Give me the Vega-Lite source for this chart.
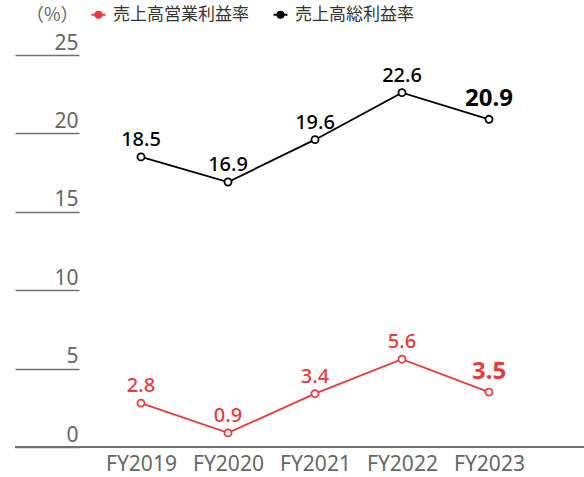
{
  "$schema": "https://vega.github.io/schema/vega-lite/v6.json",
  "autosize": {"type": "none"},
  "padding": {"left": 15, "top": 55, "right": 0, "bottom": 30},
  "width": 569,
  "height": 392,
  "background": "white",
  "config": {
    "view": {"stroke": null},
    "font": "Noto Sans",
    "axisY": {"titleFontSize": 18, "titleFontWeight": "normal", "titleColor": "#666666", "titleFont": "Noto Sans CJK JP"}
  },
  "data": {"values": [
    {"year": "FY2019", "series": "売上高営業利益率", "value": 2.8},
    {"year": "FY2020", "series": "売上高営業利益率", "value": 0.9},
    {"year": "FY2021", "series": "売上高営業利益率", "value": 3.4},
    {"year": "FY2022", "series": "売上高営業利益率", "value": 5.6},
    {"year": "FY2023", "series": "売上高営業利益率", "value": 3.5},
    {"year": "FY2019", "series": "売上高総利益率", "value": 18.5},
    {"year": "FY2020", "series": "売上高総利益率", "value": 16.9},
    {"year": "FY2021", "series": "売上高総利益率", "value": 19.6},
    {"year": "FY2022", "series": "売上高総利益率", "value": 22.6},
    {"year": "FY2023", "series": "売上高総利益率", "value": 20.9}
  ]},
  "encoding": {
    "x": {
      "field": "year", "type": "ordinal",
      "scale": {"type": "point", "range": [126, 474], "padding": 0},
      "axis": {
        "title": null, "domain": false, "ticks": false, "labelAngle": 0,
        "labelFontSize": 21, "labelColor": "#666666", "labelPadding": 6,
        "labelFont": "Noto Sans"
      }
    },
    "y": {
      "field": "value", "type": "quantitative",
      "scale": {"domain": [0, 25], "nice": false, "zero": true},
      "axis": {
        "values": [0, 5, 10, 15, 20, 25],
        "offset": -64,
        "domain": false,
        "tickSize": 64, "tickColor": "#707070", "tickWidth": 1.5,
        "labelAlign": "right", "labelBaseline": "alphabetic",
        "labelPadding": -63, "labelOffset": -6,
        "labelFontSize": 21, "labelColor": "#666666", "labelFont": "Noto Sans",
        "grid": false,
        "title": "（%）", "titleAngle": 0, "titleX": -1, "titleY": -40,
        "titleAlign": "right", "titleBaseline": "middle"
      }
    },
    "color": {
      "field": "series", "type": "nominal",
      "scale": {"domain": ["売上高営業利益率", "売上高総利益率"], "range": ["#e8393c", "#000000"]},
      "legend": {
        "title": null, "orient": "none", "direction": "horizontal",
        "legendX": 75, "legendY": -49,
        "labelFontSize": 17, "labelColor": "#333333", "labelFont": "Noto Sans CJK JP",
        "labelOffset": 6, "columnPadding": 20,
        "symbolType": "M -1 0 L -0.42 0 M 0.42 0 L 1 0 M 0.42 0 A 0.42 0.42 0 1 1 -0.42 0 A 0.42 0.42 0 1 1 0.42 0",
        "symbolSize": 196, "symbolStrokeWidth": 2.2,
        "encode": {
          "symbols": {
            "update": {
              "shape": {"value": "M -1 0 L -0.42 0 M 0.42 0 L 1 0 M 0.42 0 A 0.42 0.42 0 1 1 -0.42 0 A 0.42 0.42 0 1 1 0.42 0"},
              "fill": {"value": "white"},
              "fillOpacity": {"value": 1},
              "stroke": {"scale": "color", "field": "value"},
              "strokeOpacity": {"value": 1},
              "strokeWidth": {"value": 2.2},
              "size": {"value": 196}
            }
          }
        }
      }
    }
  },
  "layer": [
    {
      "mark": {"type": "line", "strokeWidth": 1.8}
    },
    {
      "mark": {"type": "point", "filled": false, "fill": "white", "fillOpacity": 1, "opacity": 1, "size": 50, "strokeWidth": 1.8}
    },
    {
      "transform": [{"filter": "datum.year !== 'FY2023'"}],
      "mark": {"type": "text", "baseline": "alphabetic", "dy": -11, "fontSize": 20, "fontWeight": 500, "font": "Noto Sans"},
      "encoding": {"text": {"field": "value", "type": "quantitative", "format": ".1f"}}
    },
    {
      "transform": [{"filter": "datum.year === 'FY2023'"}],
      "mark": {"type": "text", "baseline": "alphabetic", "dy": -13, "fontSize": 24, "fontWeight": "bold", "font": "Noto Sans"},
      "encoding": {"text": {"field": "value", "type": "quantitative", "format": ".1f"}}
    },
    {
      "mark": {"type": "rule", "color": "#707070", "strokeWidth": 1.5},
      "encoding": {"x": null, "color": null, "y": {"datum": 0, "type": "quantitative"}}
    }
  ]
}
